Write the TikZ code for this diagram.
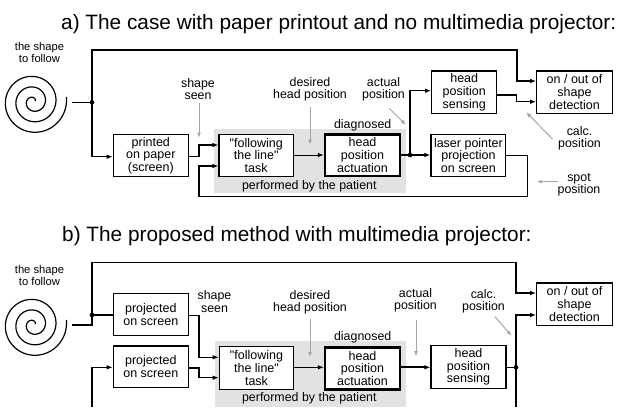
\documentclass[tikz,border=0pt]{standalone}
\usepackage{fontspec}
\setmainfont{Liberation Sans}[Ligatures=TeXOff]
\usetikzlibrary{arrows.meta}
\newcommand\ttlfont{\fontsize{20.8}{22}\selectfont}
\newcommand\bxfont{\fontsize{12.5}{12.7}\selectfont}
\newcommand\lbfont{\fontsize{12.4}{12.4}\selectfont}
\newcommand\smfont{\fontsize{11.2}{12}\selectfont}
\definecolor{gry}{HTML}{A6A6A6}
\definecolor{bgg}{HTML}{E2E2E2}
\tikzset{
 conn/.style={line width=1.4pt},
 arr/.style={conn, -{Latex[length=6pt,width=4.6pt]}},
 thinarr/.style={line width=0.9pt, -{Latex[length=6pt,width=4.6pt]}},
 garr/.style={line width=1pt, draw=gry, -{Latex[length=5.5pt,width=4pt]}},
 box/.style={draw, fill=white, line width=1.2pt, inner sep=0pt, align=center, font=\bxfont, minimum height=42.4pt},
 actbox/.style={box, line width=2.4pt, minimum width=75pt, minimum height=41.7pt},
 lbl/.style={inner sep=0pt, align=center, font=\lbfont},
 dot/.style={circle, fill, inner sep=0pt, minimum size=4.6pt},
 spiral/.style={line width=1.2pt},
}
\begin{document}
\begin{tikzpicture}[x=1pt,y=-1pt]
\useasboundingbox (0,0) rectangle (626,407);
% ---------------- part a ----------------
\fill[bgg] (214,129) rectangle (406,192.5);
\node[anchor=base west, inner sep=0pt, font=\ttlfont] (tia) at (61,29.5) {a) The case with paper printout and no multimedia projector:};
\node[inner sep=0pt, align=center, font=\smfont] (sfa) at (39.5,52.8) {the shape\\to follow};
\draw[spiral] plot[domain=0.3:19.0, samples=320, smooth] ({33.3+(1.5+1.68*\x)*cos(\x r)}, {101.7-(1.5+1.68*\x)*sin(\x r)});
\coordinate (sa) at (72,102.3);
\node[dot] (J1) at (92,102.3) {};
\node[box, minimum width=75pt] (P) at (150.8,155.5) {printed\\on paper\\(screen)};
\node[box, minimum width=74.3pt] (T) at (256.2,155.5) {"following\\the line"\\task};
\node[actbox] (A) at (362.5,155.2) {head\\position\\actuation};
\node[dot] (J2) at (410,155) {};
\node[box, minimum width=65pt] (S) at (464.2,92.2) {head\\position\\sensing};
\node[box, minimum width=74.7pt] (L) at (468.4,155.5) {laser pointer\\projection\\on screen};
\node[box, minimum width=75.6pt] (D) at (574.5,92.2) {on / out of\\shape\\detection};
\node[lbl] (dga) at (362.7,125) {diagnosed};
\node[lbl] (pfa) at (309.3,186) {performed by the patient};
\node[lbl] (ssa) at (198,89) {shape\\seen};
\node[lbl] (dha) at (310,89.5) {desired\\head position};
\node[lbl] (apa) at (383.5,89) {actual\\position};
\node[lbl] (cpa) at (579.5,138) {calc.\\position};
\node[lbl] (spa) at (579,184.5) {spot\\position};
\draw[conn] (sa) -- (J1.center);
\draw[arr] (J1.center) |- (517,50) |- (D.west |- 0,81);
\draw[arr] (J1.center) |- (P.west |- 0,156.7);
\draw[arr] (P.east |- 0,156.7) -| (199,145) -- (T.west |- 0,145);
\draw[arr] (L.east) -| (527.7,196.7) -| (199,166) -- (T.west |- 0,166);
\draw[thinarr] (T.east |- 0,155) -- (A.west |- 0,155);
\draw[conn] (A.east |- 0,155) -- (J2.center);
\draw[arr] (J2.center) -- (L.west |- 0,155);
\draw[arr] (J2.center) |- (S.west |- 0,90.7);
\draw[arr] (S.east |- 0,95) -| (516.7,101.7) -- (D.west |- 0,101.7);
\draw[garr] (199,103) -- (199,138);
\draw[garr] (310,106.7) -- (310,145);
\draw[garr] (389.3,108.3) -- (406,125);
\draw[garr] (552.5,139) -- (526,112);
\draw[garr] (558.3,181.7) -- (536.7,181.7);
% ---------------- part b ----------------
\fill[bgg] (214.5,341) rectangle (406,407);
\node[anchor=base west, inner sep=0pt, font=\ttlfont] (tib) at (62,241.7) {b) The proposed method with multimedia projector:};
\node[inner sep=0pt, align=center, font=\smfont] (sfb) at (39.5,275) {the shape\\to follow};
\draw[spiral] plot[domain=0.3:19.0, samples=320, smooth] ({33.3+(1.5+1.68*\x)*cos(\x r)}, {324.7-(1.5+1.68*\x)*sin(\x r)});
\coordinate (sb) at (72,325);
\node[dot] (J3) at (92,315) {};
\node[box, minimum width=75pt] (Q1) at (150.8,314.5) {projected\\on screen};
\node[box, minimum width=75pt, minimum height=41.7pt] (Q2) at (150.8,366.8) {projected\\on screen};
\node[box, minimum width=74.4pt] (T2) at (256.5,368) {"following\\the line"\\task};
\node[actbox, minimum height=42pt] (A2) at (362.5,368.3) {head\\position\\actuation};
\node[box, minimum width=75pt] (S2) at (468.5,367) {head\\position\\sensing};
\node[dot] (J4) at (516,367.3) {};
\node[box, minimum width=75.6pt] (D2) at (574.5,304.2) {on / out of\\shape\\detection};
\node[lbl] (dgb) at (362.7,337.5) {diagnosed};
\node[lbl] (pfb) at (309.3,397.8) {performed by the patient};
\node[lbl] (ssb) at (214.5,301.5) {shape\\seen};
\node[lbl] (dhb) at (310,302) {desired\\head position};
\node[lbl] (apb) at (415.5,300) {actual\\position};
\node[lbl] (cpb) at (483.5,301) {calc.\\position};
\draw[conn] (sb) -| (J3.center);
\draw[arr] (J3.center) |- (516,262.3) |- (D2.west |- 0,293);
\draw[conn] (J3.center) -- (Q1.west |- 0,315);
\draw[arr] (Q1.east |- 0,315.7) -| (199,357.3) -- (T2.west |- 0,357.3);
\draw[arr] (92,407) |- (Q2.west |- 0,367.3);
\draw[arr] (Q2.east |- 0,368) -| (199,377.7) -- (T2.west |- 0,377.7);
\draw[thinarr] (T2.east |- 0,367.3) -- (A2.west |- 0,367.3);
\draw[arr, line width=2pt] (A2.east |- 0,367.3) -- (S2.west |- 0,367.3);
\draw[conn] (S2.east |- 0,367.3) -- (J4.center);
\draw[arr] (516,407) -- (J4.center) |- (D2.west |- 0,315);
\draw[garr] (310,319) -- (310,357.5);
\draw[garr] (416,320) -- (416,356.7);
\draw[garr] (495,316.7) -- (511.7,336);
\end{tikzpicture}
\end{document}
